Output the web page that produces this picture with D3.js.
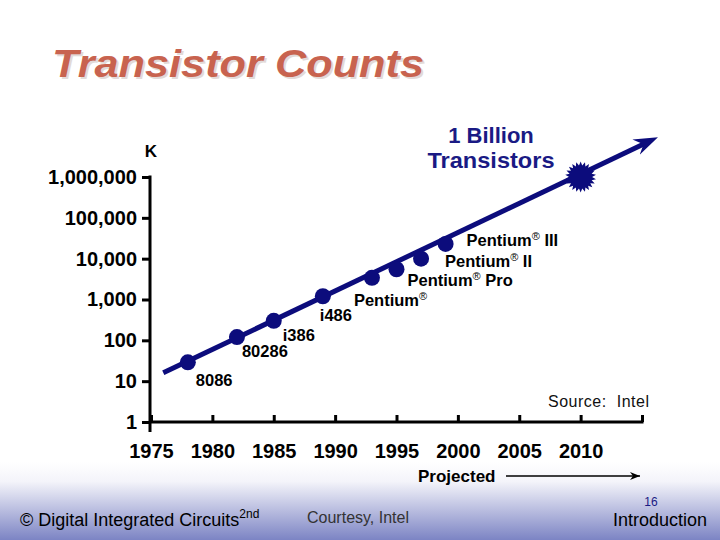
<!DOCTYPE html>
<html><head><meta charset="utf-8">
<script src="https://cdn.jsdelivr.net/npm/d3@7"></script>
<style>
body{margin:0;background:#fff}
svg{display:block}
text{font-family:"Liberation Sans",Arial,Helvetica,sans-serif}
</style>
</head><body>
<svg id="c" width="720" height="540"></svg>
<script>
// ---- data ----
const chips = ["8086", "80286", "i386", "i486", "Pentium", "Pentium Pro", "Pentium II", "Pentium III"];
const chipYears = [1978, 1982, 1985, 1989, 1993, 1995, 1997, 1999];
const chipTransistorsK = [29, 120, 300, 1200, 3400, 5500, 10000, 23000];
const trendYears = [1976, 2016.3];
const trendK = [16, 9400000];
const milestoneYears = [2010];
const milestoneK = [1000000];
const yTicks = [1, 10, 100, 1000, 10000, 100000, 1000000];
const xTicks = [1975, 1980, 1985, 1990, 1995, 2000, 2005, 2010, 2015];
const xTickLabels = ["1975", "1980", "1985", "1990", "1995", "2000", "2005", "2010", ""];

// ---- layout (label offsets from their dot, px) ----
const labelDx = [8, 5, 9, -3, -18, 11, 24, 21];
const labelDy = [24, 20, 20, 25, 28, 17, 8, 2];

const svg = d3.select("#c");
const navy = "#0c0c7c";

// footer gradient
const defs = svg.append("defs");
const g1 = defs.append("linearGradient").attr("id", "foot").attr("x1", 0).attr("y1", 0).attr("x2", 0).attr("y2", 1);
g1.append("stop").attr("offset", 0).attr("stop-color", "#ffffff");
g1.append("stop").attr("offset", 0.25).attr("stop-color", "#f4f4fa");
g1.append("stop").attr("offset", 1).attr("stop-color", "#7c84c4");
svg.append("rect").attr("x", 0).attr("y", 462).attr("width", 720).attr("height", 78).attr("fill", "url(#foot)");

// arrow markers
defs.append("marker").attr("id", "arr").attr("markerUnits", "userSpaceOnUse")
  .attr("viewBox", "-24 -10 26 20").attr("refX", 0).attr("refY", 0)
  .attr("markerWidth", 26).attr("markerHeight", 20).attr("orient", "auto")
  .append("path").attr("d", "M0,0 L-24,-9 L-16,0 L-24,8 Z").attr("fill", navy);
defs.append("marker").attr("id", "arrSmall").attr("markerUnits", "userSpaceOnUse")
  .attr("viewBox", "-10 -5 12 10").attr("refX", 0).attr("refY", 0)
  .attr("markerWidth", 12).attr("markerHeight", 10).attr("orient", "auto")
  .append("path").attr("d", "M0,0 L-10,-4 L-7,0 L-10,4 Z").attr("fill", "#000");

// title
const title = "Transistor Counts";
svg.append("text").attr("x", 54).attr("y", 79).text(title)
  .attr("font-size", 39).attr("font-weight", "bold").attr("font-style", "italic")
  .attr("fill", "#e2dad8").attr("textLength", 372).attr("lengthAdjust", "spacingAndGlyphs");
svg.append("text").attr("x", 52).attr("y", 77).text(title)
  .attr("font-size", 39).attr("font-weight", "bold").attr("font-style", "italic")
  .attr("fill", "#c8634f").attr("textLength", 372).attr("lengthAdjust", "spacingAndGlyphs");

// scales
const x = d3.scaleLinear().domain([1975, 2015]).range([151, 642]);
const y = d3.scaleLog().domain([1, 1000000]).range([422, 177]);

// y axis
const ya = svg.append("g").attr("transform", "translate(150,0)")
  .call(d3.axisLeft(y).tickValues(yTicks).tickFormat(d3.format(",")).tickSize(8).tickSizeOuter(0).tickPadding(5));
ya.select(".domain").remove();
ya.selectAll("line").attr("stroke", "#000").attr("stroke-width", 3);
ya.selectAll("text").attr("font-size", 20).attr("font-weight", "bold").attr("fill", "#000")
  .attr("font-family", "'Liberation Sans',Arial,sans-serif");
svg.append("line").attr("x1", 150).attr("x2", 150).attr("y1", y(1000000) - 1.5).attr("y2", y(1) + 10)
  .attr("stroke", "#000").attr("stroke-width", 3);

// x axis
const xa = svg.append("g").attr("transform", "translate(0," + y(1) + ")")
  .call(d3.axisBottom(x).tickValues(xTicks).tickFormat((d, i) => xTickLabels[i])
    .tickSizeInner(-7).tickSizeOuter(0).tickPadding(22));
xa.select(".domain").attr("stroke", "#000").attr("stroke-width", 3)
  .attr("d", "M150,0H" + (x(2015) + 1.5));
xa.selectAll("line").attr("stroke", "#000").attr("stroke-width", 3);
xa.selectAll("text").attr("font-size", 20).attr("font-weight", "bold").attr("fill", "#000")
  .attr("font-family", "'Liberation Sans',Arial,sans-serif");

// K label
svg.append("text").attr("x", 151).attr("y", 157).attr("text-anchor", "middle")
  .attr("font-size", 17).attr("font-weight", "bold").text("K");

// trend line
const trend = trendYears.map((t, i) => [x(t), y(trendK[i])]);
const ang = Math.atan2(trend[1][1] - trend[0][1], trend[1][0] - trend[0][0]);
const lineEnd = [trend[1][0] - 14 * Math.cos(ang), trend[1][1] - 14 * Math.sin(ang)];
svg.append("line").attr("x1", trend[0][0]).attr("y1", trend[0][1])
  .attr("x2", lineEnd[0]).attr("y2", lineEnd[1])
  .attr("stroke", navy).attr("stroke-width", 5);
svg.append("line").attr("x1", lineEnd[0]).attr("y1", lineEnd[1])
  .attr("x2", trend[1][0]).attr("y2", trend[1][1])
  .attr("stroke", "none").attr("marker-end", "url(#arr)");

// chip dots
svg.selectAll("circle.chip").data(chips).join("circle").attr("class", "chip")
  .attr("cx", (d, i) => x(chipYears[i])).attr("cy", (d, i) => y(chipTransistorsK[i]))
  .attr("r", 8).attr("fill", navy);

// milestone starburst
const nSp = 22;
const starPts = d3.range(nSp * 2).map(k => [k * Math.PI / nSp, k % 2 ? 11.5 : 15.5]);
svg.selectAll("path.star").data(milestoneYears).join("path").attr("class", "star")
  .attr("transform", (d, i) => "translate(" + x(d) + "," + y(milestoneK[i]) + ")")
  .attr("d", d3.lineRadial().curve(d3.curveLinearClosed)(starPts))
  .attr("fill", navy);

// chip labels
chips.forEach((name, i) => {
  const t = svg.append("text")
    .attr("x", x(chipYears[i]) + labelDx[i]).attr("y", y(chipTransistorsK[i]) + labelDy[i])
    .attr("font-size", 16.5).attr("font-weight", "bold").attr("fill", "#000");
  if (name.startsWith("Pentium")) {
    t.append("tspan").text("Pentium");
    t.append("tspan").text("®").attr("font-size", 11).attr("font-weight", "normal").attr("dy", -6);
    const rest = name.slice(7);
    if (rest) t.append("tspan").text(rest).attr("dy", 6);
  } else {
    t.text(name);
  }
});

// 1 Billion Transistors
svg.append("text").attr("x", 491).attr("y", 143).attr("text-anchor", "middle")
  .attr("font-size", 22).attr("font-weight", "bold").attr("fill", "#1a1a84").text("1 Billion");
svg.append("text").attr("x", 491).attr("y", 168).attr("text-anchor", "middle")
  .attr("font-size", 22).attr("font-weight", "bold").attr("fill", "#1a1a84")
  .attr("textLength", 127).attr("lengthAdjust", "spacingAndGlyphs").text("Transistors");

// Source
svg.append("text").attr("x", 548).attr("y", 407).attr("font-size", 16).attr("fill", "#111")
  .style("white-space", "pre").attr("textLength", 101).attr("lengthAdjust", "spacing").text("Source:  Intel");

// Projected
svg.append("text").attr("x", 418).attr("y", 482).attr("font-size", 17).attr("font-weight", "bold")
  .attr("fill", "#000").text("Projected");
svg.append("line").attr("x1", 506).attr("x2", 640).attr("y1", 476).attr("y2", 476)
  .attr("stroke", "#000").attr("stroke-width", 1.5).attr("marker-end", "url(#arrSmall)");

// footer
const ft = svg.append("text").attr("x", 20).attr("y", 526).attr("font-size", 18).attr("fill", "#000");
ft.append("tspan").text("© ");
ft.append("tspan").text("Digital Integrated Circuits");
ft.append("tspan").text("2nd").attr("font-size", 12).attr("dy", -8);
svg.append("text").attr("x", 307).attr("y", 523).attr("font-size", 16).attr("fill", "#333")
  .text("Courtesy, Intel");
svg.append("text").attr("x", 651).attr("y", 506).attr("text-anchor", "middle").attr("font-size", 12)
  .attr("font-family", "'Liberation Serif','Times New Roman',serif").attr("fill", "#1a1a84").text("16");
svg.append("text").attr("x", 660).attr("y", 526).attr("text-anchor", "middle").attr("font-size", 18)
  .attr("fill", "#000").text("Introduction");
</script>
</body></html>
